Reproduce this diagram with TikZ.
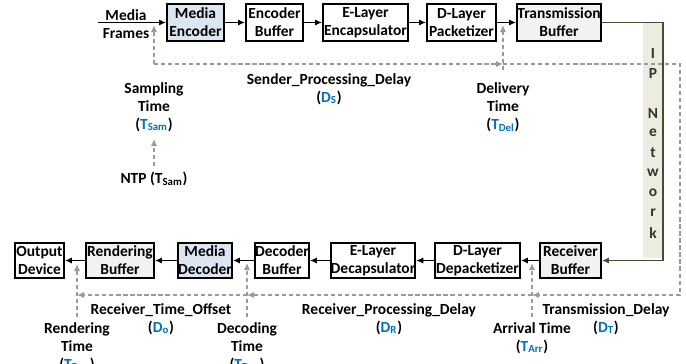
\documentclass[tikz,border=0pt]{standalone}
\usepackage{fontspec}
\setmainfont{Carlito}
\usetikzlibrary{arrows.meta}
\definecolor{lblue}{HTML}{DCE6F2}
\definecolor{lgray}{HTML}{F2F2F2}
\definecolor{netfill}{HTML}{EEECE1}
\definecolor{netline}{HTML}{4A4A32}
\definecolor{dgray}{HTML}{9A9A9A}
\definecolor{symb}{HTML}{0070C0}
% coloured time/delay symbol with subscript
\newcommand{\sy}[2]{\textcolor{symb}{#1\textsubscript{#2}}}
\begin{document}
\begin{tikzpicture}[x=0.02cm,y=-0.02cm,
  font=\fontsize{8.8}{10.2}\selectfont\bfseries,
  box/.style={draw, line width=1.1pt, inner sep=0pt, align=center, minimum height=0.74cm},
  bbox/.style={box, minimum height=0.70cm},
  flow/.style={line width=0.9pt, -{Latex[length=4pt,width=3.6pt]}},
  meas/.style={dgray, line width=0.8pt, dash pattern=on 2.4pt off 1.6pt},
  measarr/.style={meas, -{Latex[length=4pt,width=3.6pt]}},
  lbl/.style={align=center, inner sep=0pt}]
\useasboundingbox (0,0) rectangle (686,364);

% sender chain
\node[box, fill=lblue, minimum width=1.14cm] (menc) at (195.5,22.5) {Media\\Encoder};
\node[box, minimum width=1.14cm] (encb) at (274.5,22.5) {Encoder\\Buffer};
\node[box, minimum width=1.70cm] (elenc) at (365.5,22.5) {E-Layer\\Encapsulator};
\node[box, minimum width=1.38cm] (dpack) at (461.5,22.5) {D-Layer\\Packetizer};
\node[box, fill=lgray, minimum width=1.68cm] (txb) at (559,22.5) {Transmission\\Buffer};

% receiver chain
\node[bbox, minimum width=0.98cm] (out) at (39.5,260.5) {Output\\Device};
\node[bbox, fill=lgray, minimum width=1.36cm] (rbuf) at (120,260.5) {Rendering\\Buffer};
\node[bbox, fill=lblue, minimum width=1.08cm] (mdec) at (205,260.5) {Media\\Decoder};
\node[bbox, minimum width=1.08cm] (dbuf) at (282,260.5) {Decoder\\Buffer};
\node[bbox, minimum width=1.64cm] (edec) at (373,260.5) {E-Layer\\Decapsulator};
\node[bbox, minimum width=1.70cm] (ddep) at (477.5,260.5) {D-Layer\\Depacketizer};
\node[bbox, fill=lgray, minimum width=1.22cm] (rxb) at (570.5,260.5) {Receiver\\Buffer};

% IP network
\fill[netfill] (643,23) rectangle (663,258);
\foreach \ch/\yy in {I/53,P/73,N/113,e/133,t/153,w/173,o/193,r/213,k/233}
  \node[lbl, text=black!80] at (653,\yy) {\ch};
\coordinate (ipt) at (663,22.5);
\coordinate (ipb) at (663,260.5);
\draw[flow, netline] (txb.east) -- (ipt) -- (ipb) -- (rxb.east);

% media flow
\coordinate (mf) at (98,22.5);
\node[lbl] (mflbl) at (126,24) {Media\\Frames};
\draw[flow] (mf) -- (menc);
\draw[flow] (menc) -- (encb);
\draw[flow] (encb) -- (elenc);
\draw[flow] (elenc) -- (dpack);
\draw[flow] (dpack) -- (txb);
\draw[flow] (rxb) -- (ddep);
\draw[flow] (ddep) -- (edec);
\draw[flow] (edec) -- (dbuf);
\draw[flow] (dbuf) -- (mdec);
\draw[flow] (mdec) -- (rbuf);
\draw[flow] (rbuf) -- (out);

% timing labels
\node[lbl] (samp) at (154,107) {Sampling\\Time\\(\sy{T}{Sam})};
\node[lbl] (ntp) at (154,179) {NTP (T\textsubscript{Sam})};
\node[lbl] (deliv) at (503,107) {Delivery\\Time\\(\sy{T}{Del})};
\node[lbl] (sdl) at (329,89) {Sender\_Processing\_Delay\\(\sy{D}{S})};
\node[lbl] (rto) at (161,319) {Receiver\_Time\_Offset\\(\sy{D}{o})};
\node[lbl] (rpd) at (389,319) {Receiver\_Processing\_Delay\\(\sy{D}{R})};
\node[lbl] (tdl) at (606,319) {Transmission\_Delay\\(\sy{D}{T})};
\node[lbl] (arr) at (532,338) {Arrival Time\\(\sy{T}{Arr})};
\node[lbl] (rend) at (77,347) {Rendering\\Time\\(\sy{T}{Ren})};
\node[lbl] (dec) at (247,347) {Decoding\\Time\\(\sy{T}{Dec})};

% timing markers
\coordinate (s0) at (154,25);
\coordinate (s1) at (154,64);
\coordinate (n0) at (154,139);
\coordinate (n1) at (154,166);
\coordinate (d0) at (503,25);
\coordinate (d1) at (503,64);
\coordinate (d2) at (503,70);
\coordinate (c1) at (680,64);
\coordinate (c2) at (680,295);
\coordinate (a1) at (532,295);
\coordinate (a0) at (532,263);
\coordinate (a2) at (532,317);
\coordinate (k1) at (247,295);
\coordinate (k0) at (247,263);
\coordinate (k2) at (247,317);
\coordinate (r1) at (77,295);
\coordinate (r0) at (77,264);
\coordinate (r2) at (77,317);

\draw[measarr] (s1) -- (s0);
\draw[measarr] (n1) -- (n0);
\draw[measarr] (d2) -- (d0);
\draw[measarr] (s1) -- (d1);
\draw[measarr] (d1) -- (c1) -- (c2) -- (a1);
\draw[measarr] (a1) -- (k1);
\draw[measarr] (k1) -- (r1);
\draw[measarr] (a2) -- (a0);
\draw[measarr] (k2) -- (k0);
\draw[measarr] (r2) -- (r0);
\end{tikzpicture}
\end{document}
